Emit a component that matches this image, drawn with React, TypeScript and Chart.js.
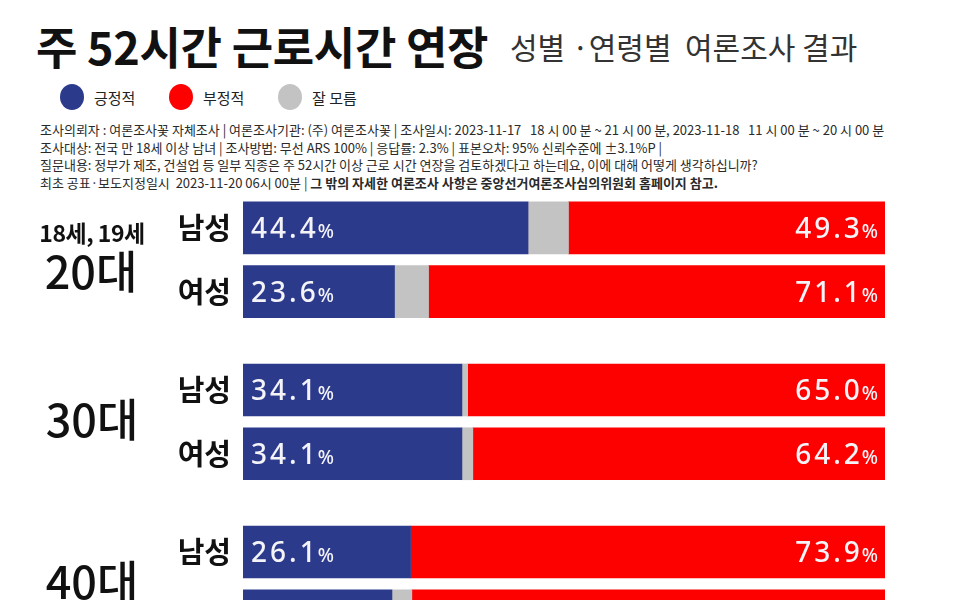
import React, { useEffect, useRef } from "react";
import { Chart, registerables } from "chart.js";

Chart.register(...registerables);

// ---- data ----
const AGE_GROUPS = ["20대", "30대", "40대"];
const GROUP_NOTES = ["18세, 19세", "", ""];
const GENDERS = ["남성", "여성"];
const POSITIVE = [44.4, 23.6, 34.1, 34.1, 26.1, 23.2];
const UNSURE = [6.3, 5.3, 0.9, 1.7, 0.0, 3.1];
const NEGATIVE = [49.3, 71.1, 65.0, 64.2, 73.9, 73.7];
const SERIES_NAMES = ["긍정적", "부정적", "잘 모름"];

const TITLE = "주 52시간 근로시간 연장";
const SUBTITLE = "성별 ·연령별  여론조사 결과";
const INFO_LINES = [
  "조사의뢰자 : 여론조사꽃 자체조사 | 여론조사기관: (주) 여론조사꽃 | 조사일시: 2023-11-17   18 시 00 분 ~ 21 시 00 분, 2023-11-18   11 시 00 분 ~ 20 시 00 분",
  "조사대상: 전국 만 18세 이상 남녀 | 조사방법: 무선 ARS 100% | 응답률: 2.3% | 표본오차: 95% 신뢰수준에 ±3.1%P |",
  "질문내용: 정부가 제조, 건설업 등 일부 직종은 주 52시간 이상 근로 시간 연장을 검토하겠다고 하는데요, 이에 대해 어떻게 생각하십니까?",
];
const INFO_LAST_A = "최초 공표·보도지정일시  2023-11-20 06시 00분 | ";
const INFO_LAST_B = "그 밖의 자세한 여론조사 사항은 중앙선거여론조사심의위원회 홈페이지 참고.";

// ---- style ----
const BLUE = "#2c3a8c";
const RED = "#fd0000";
const GRAY = "#c3c3c3";
const FONT = '"Noto Sans CJK KR", "Noto Sans", sans-serif';
const GROUP_STEP = 2.54;

const rowPos = (i: number) => Math.floor(i / GENDERS.length) * GROUP_STEP + (i % GENDERS.length);

function drawPct(ctx: CanvasRenderingContext2D, value: number, x: number, y: number, align: "left" | "right") {
  const num = value.toFixed(1);
  ctx.save();
  ctx.fillStyle = "#f4f4f8";
  ctx.textBaseline = "alphabetic";
  ctx.textAlign = "left";
  (ctx as any).letterSpacing = "3px";
  ctx.font = `500 28px "Noto Sans", ${FONT}`;
  const wNum = ctx.measureText(num).width;
  ctx.font = `500 19px "Noto Sans", ${FONT}`;
  const wPct = ctx.measureText("%").width - 3;
  const start = align === "left" ? x : x - wNum - wPct;
  const base = y + 10;
  ctx.font = `500 28px "Noto Sans", ${FONT}`;
  ctx.fillText(num, start, base);
  ctx.font = `500 19px "Noto Sans", ${FONT}`;
  ctx.fillText("%", start + wNum - 1, base);
  ctx.restore();
}

const labelPlugin = {
  id: "pctLabels",
  afterDatasetsDraw(chart: any) {
    const ctx = chart.ctx;
    const posMeta = chart.getDatasetMeta(0);
    const negMeta = chart.getDatasetMeta(2);
    const yScale = chart.scales.y;
    const left = chart.chartArea.left;
    POSITIVE.forEach((v, i) => {
      const el = posMeta.data[i];
      drawPct(ctx, v, el.base + 8, el.y, "left");
    });
    NEGATIVE.forEach((v, i) => {
      const el = negMeta.data[i];
      drawPct(ctx, v, el.x - 6, el.y, "right");
    });
    ctx.save();
    ctx.fillStyle = "#111";
    // gender row labels
    ctx.textAlign = "right";
    ctx.textBaseline = "middle";
    ctx.font = `bold 29px ${FONT}`;
    POSITIVE.forEach((_, i) => {
      ctx.fillText(GENDERS[i % GENDERS.length], left - 12, yScale.getPixelForValue(rowPos(i)));
    });
    // age group labels
    ctx.textAlign = "center";
    AGE_GROUPS.forEach((g, gi) => {
      const first = gi * GENDERS.length;
      const mid = (yScale.getPixelForValue(rowPos(first)) + yScale.getPixelForValue(rowPos(first + 1))) / 2;
      const note = GROUP_NOTES[gi];
      if (note) {
        ctx.font = `600 23px ${FONT}`;
        (ctx as any).letterSpacing = "-0.5px";
        ctx.fillText(note, 92, mid - 27);
        (ctx as any).letterSpacing = "0px";
        ctx.font = `500 45px ${FONT}`;
        ctx.fillText(g, 91, mid + 12);
      } else {
        ctx.font = `500 45px ${FONT}`;
        ctx.fillText(g, 92, mid - 2);
      }
    });
    ctx.restore();
  },
};

function BarChart() {
  const ref = useRef<HTMLCanvasElement | null>(null);
  useEffect(() => {
    if (!ref.current) return;
    const mk = (vals: number[]) => vals.map((v, i) => ({ x: v, y: rowPos(i) }));
    const chart = new Chart(ref.current, {
      type: "bar",
      data: {
        datasets: [
          { label: SERIES_NAMES[0], data: mk(POSITIVE), backgroundColor: BLUE },
          { label: SERIES_NAMES[2], data: mk(UNSURE), backgroundColor: GRAY },
          { label: SERIES_NAMES[1], data: mk(NEGATIVE), backgroundColor: RED },
        ] as any,
      },
      options: {
        indexAxis: "y",
        responsive: false,
        animation: false,
        devicePixelRatio: 1,
        layout: { padding: { top: 1, right: 81, bottom: 0, left: 243 } },
        datasets: { bar: { barThickness: 52, grouped: false, borderWidth: 0 } } as any,
        plugins: { legend: { display: false }, tooltip: { enabled: false } },
        scales: {
          x: { type: "linear", stacked: true, min: 0, max: 100, display: false },
          y: {
            type: "linear",
            reverse: true,
            min: -0.5,
            max: 6.6,
            offset: false,
            display: false,
          },
        },
      } as any,
      plugins: [labelPlugin],
    });
    return () => chart.destroy();
  }, []);
  return (
    <canvas
      ref={ref}
      width={966}
      height={454}
      style={{ position: "absolute", left: 0, top: 195, width: 966, height: 454 }}
    />
  );
}

const dot = (c: string) => ({
  display: "inline-block",
  width: 24,
  height: 26,
  borderRadius: "50%",
  background: c,
});

export default function App() {
  const legend = [
    { c: BLUE, t: SERIES_NAMES[0], x: 60 },
    { c: RED, t: SERIES_NAMES[1], x: 169 },
    { c: GRAY, t: SERIES_NAMES[2], x: 278 },
  ];
  return (
    <div style={{ position: "absolute", left: 0, top: 0, width: 966, height: 660, background: "#fff", fontFamily: FONT, color: "#111", overflow: "hidden" }}>
      <div style={{ position: "absolute", left: 36, top: 16, fontSize: 45, fontWeight: 700, lineHeight: "60px", letterSpacing: -0.3, whiteSpace: "pre" }}>
        {TITLE}
      </div>
      <div style={{ position: "absolute", left: 510, top: 26, fontSize: 30, fontWeight: 400, lineHeight: "40px", color: "#333", whiteSpace: "pre" }}>
        {SUBTITLE}
      </div>
      {legend.map((l) => (
        <div key={l.t} style={{ position: "absolute", left: l.x, top: 84, display: "flex", alignItems: "center", whiteSpace: "nowrap" }}>
          <span style={dot(l.c)} />
          <span style={{ fontSize: 15, marginLeft: 10, color: "#222" }}>{l.t}</span>
        </div>
      ))}
      <div style={{ position: "absolute", left: 40, top: 121, fontSize: 13, lineHeight: "17.7px", color: "#2a2a2a", whiteSpace: "pre" }}>
        {INFO_LINES.map((t) => (
          <div key={t}>{t}</div>
        ))}
        <div>
          {INFO_LAST_A}
          <b>{INFO_LAST_B}</b>
        </div>
      </div>
      <BarChart />
    </div>
  );
}
